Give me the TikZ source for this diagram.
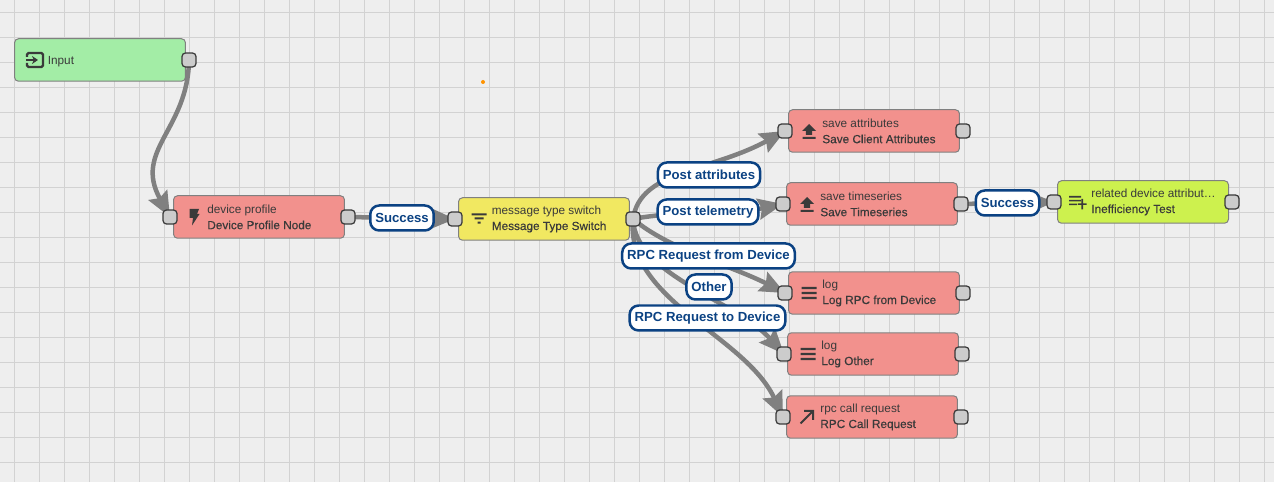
\documentclass[tikz,border=0pt]{standalone}
\usepackage{fontspec}
\setmainfont{Liberation Sans}
\newfontfamily\medfont[FakeBold=0.4]{Liberation Sans}
\usetikzlibrary{arrows.meta}
\definecolor{canvasbg}{HTML}{EEEEEE}
\definecolor{gridline}{HTML}{D2D2D2}
\definecolor{rulered}{HTML}{F2918D}
\definecolor{rulegreen}{HTML}{A3EDA6}
\definecolor{ruleyellow}{HTML}{F1E861}
\definecolor{rulelime}{HTML}{CDF14E}
\definecolor{portgray}{HTML}{CCCCCC}
\definecolor{linkgray}{HTML}{808080}
\definecolor{labelblue}{HTML}{0B4283}
\definecolor{inkdark}{HTML}{3A3A3A}
\pgfdeclarelayer{edges}
\pgfsetlayers{edges,main}
\tikzset{
  rulebox/.style={draw=black!50, line width=0.02cm, rounded corners=0.08cm, minimum width=3.42cm, minimum height=0.85cm, inner sep=0pt},
  ruletext/.style={anchor=west, align=left, inner sep=0pt, text=inkdark, font=\fontsize{6.7}{9.07}\selectfont},
  port/.style={draw=inkdark, line width=0.025cm, fill=portgray, rounded corners=0.07cm, minimum size=0.28cm, inner sep=0pt},
  link/.style={draw=linkgray, line width=0.09cm, -{Stealth[length=0.5cm, width=0.42cm, inset=0.07cm]}},
  linklabel/.style={draw=labelblue, line width=0.05cm, fill=white, rounded corners=0.18cm, minimum height=0.5cm, inner xsep=0.1cm, inner ysep=0pt, text=labelblue, font=\fontsize{7.5}{9}\selectfont\bfseries},
  inputicon/.pic={\draw[inkdark, line width=0.045cm, rounded corners=0.03cm] (-8,-3) -- (-8,-7) -- (8,-7) -- (8,7) -- (-8,7) -- (-8,3);
    \draw[inkdark, line width=0.045cm, -{Stealth[length=0.12cm, width=0.16cm]}] (-9,0) -- (3,0);},
  bolticon/.pic={\fill[inkdark] (-4.5,-8) -- (5,-8) -- (3,-3) -- (5.5,-3) -- (-2,8.5) -- (-1,1) -- (-4.5,1) -- cycle;},
  filtericon/.pic={\fill[inkdark] (-7.5,-5.2) rectangle (7.5,-3.2) (-4.5,-1) rectangle (4.5,1) (-1.5,3.2) rectangle (1.5,5.2);},
  uploadicon/.pic={\fill[inkdark] (-3.2,0) -- (-7,0) -- (0,-7) -- (7,0) -- (3.2,0) -- (3.2,4) -- (-3.2,4) -- cycle (-6.5,6) rectangle (6.5,7.8);},
  logicon/.pic={\fill[inkdark] (-7.5,-6.2) rectangle (7.5,-3.9) (-7.5,-1.15) rectangle (7.5,1.15) (-7.5,3.9) rectangle (7.5,6.2);},
  callicon/.pic={\draw[inkdark, line width=0.04cm] (-6.5,6.5) -- (6,-6) (-3,-6) -- (6,-6) -- (6,3);},
  addicon/.pic={\fill[inkdark] (-8,-6) rectangle (4,-4.4) (-8,-2.2) rectangle (4,-0.6) (-8,1.6) rectangle (0,3.2);
    \fill[inkdark] (0.8,1.4) rectangle (9.5,3) (4.4,-3) rectangle (6,7.5);}
}
\begin{document}
\begin{tikzpicture}[x=0.02cm, y=-0.02cm]
\useasboundingbox (0,0) rectangle (1274,482);

% rule nodes
\node[rulebox, fill=rulegreen] (input) at (100,60) {};
\node[rulebox, fill=rulered] (profile) at (259,217) {};
\node[rulebox, fill=ruleyellow] (switch) at (544,219) {};
\node[rulebox, fill=rulered] (saveattr) at (874,131) {};
\node[rulebox, fill=rulered] (savets) at (872,204) {};
\node[rulebox, fill=rulelime] (related) at (1143,202) {};
\node[rulebox, fill=rulered] (logrpc) at (874,293) {};
\node[rulebox, fill=rulered] (logother) at (873,354) {};
\node[rulebox, fill=rulered] (rpccall) at (872,417) {};

% ports
\node[port] (inputOut) at (189,60) {};
\node[port] (profileIn) at (170,217) {};
\node[port] (profileOut) at (348,217) {};
\node[port] (switchIn) at (455,219) {};
\node[port] (switchOut) at (633,219) {};
\node[port] (saveattrIn) at (785,131) {};
\node[port] (saveattrOut) at (963,131) {};
\node[port] (savetsIn) at (783,204) {};
\node[port] (savetsOut) at (961,204) {};
\node[port] (relatedIn) at (1054,202) {};
\node[port] (relatedOut) at (1232,202) {};
\node[port] (logrpcIn) at (785,293) {};
\node[port] (logrpcOut) at (963,293) {};
\node[port] (logotherIn) at (784,354) {};
\node[port] (logotherOut) at (962,354) {};
\node[port] (rpccallIn) at (783,417) {};
\node[port] (rpccallOut) at (961,417) {};

% canvas and links go under the nodes
\begin{pgfonlayer}{edges}
\fill[canvasbg] (0,0) rectangle (1274,482);
\foreach \gx in {0,...,50} {
  \draw[gridline, line width=0.02cm] ({14.3+25*\gx},0) -- ({14.3+25*\gx},482);
}
\foreach \gy in {0,...,18} {
  \draw[gridline, line width=0.02cm] (0,{13+25*\gy}) -- (1274,{13+25*\gy});
}
\draw[link] (inputOut.center) .. controls (188,130) and (133,150) .. (profileIn.center);
\draw[link] (profileOut.center) -- (switchIn.center);
\draw[link] (switchOut.center) .. controls (640,170) and (710,172) .. (saveattrIn.center);
\draw[link] (switchOut.center) .. controls (680,210) and (730,215) .. (savetsIn.center);
\draw[link] (switchOut.center) .. controls (670,250) and (730,265) .. (logrpcIn.center);
\draw[link] (switchOut.center) .. controls (635,275) and (735,300) .. (logotherIn.center);
\draw[link] (switchOut.center) .. controls (625,300) and (745,335) .. (rpccallIn.center);
\draw[link] (savetsOut.center) -- (relatedIn.center);
\end{pgfonlayer}

% link labels
\node[linklabel] (successA) at (402,218) {\raisebox{-0.7pt}{Success}};
\node[linklabel] (postattr) at (709,175) {\raisebox{-0.7pt}{Post attributes}};
\node[linklabel] (posttele) at (708,212) {\raisebox{-0.7pt}{Post telemetry}};
\node[linklabel] (rpcfrom) at (708.5,256) {\raisebox{-0.7pt}{RPC Request from Device}};
\node[linklabel] (other) at (709,287) {\raisebox{-0.7pt}{Other}};
\node[linklabel] (rpcto) at (707.5,318) {\raisebox{-0.7pt}{RPC Request to Device}};
\node[linklabel] (successB) at (1007.5,203) {\raisebox{-0.7pt}{Success}};

% icons
\pic at (35,60) {inputicon};
\pic at (194,217) {bolticon};
\pic at (479,218.5) {filtericon};
\pic at (809,131) {uploadicon};
\pic at (807,204) {uploadicon};
\pic at (809,293) {logicon};
\pic at (808,354) {logicon};
\pic at (807,417) {callicon};
\pic at (1077,202) {addicon};

% texts
\node[ruletext] (inputText) at (47.5,61.5) {Input};
\node[ruletext] (profileText) at (207,217) {device profile\\{\medfont Device Profile Node}};
\node[ruletext] (switchText) at (491.5,219) {message type switch\\{\medfont Message Type Switch}};
\node[ruletext] (saveattrText) at (822,131) {save attributes\\{\medfont Save Client Attributes}};
\node[ruletext] (savetsText) at (820,204) {save timeseries\\{\medfont Save Timeseries}};
\node[ruletext] (relatedText) at (1091,202) {related device attribut…\\{\medfont Inefficiency Test}};
\node[ruletext] (logrpcText) at (822,293) {log\\{\medfont Log RPC from Device}};
\node[ruletext] (logotherText) at (821,354) {log\\{\medfont Log Other}};
\node[ruletext] (rpccallText) at (820,417) {rpc call request\\{\medfont RPC Call Request}};

\fill[orange!85!yellow] (483,82) circle (0.04cm);
\end{tikzpicture}
\end{document}
